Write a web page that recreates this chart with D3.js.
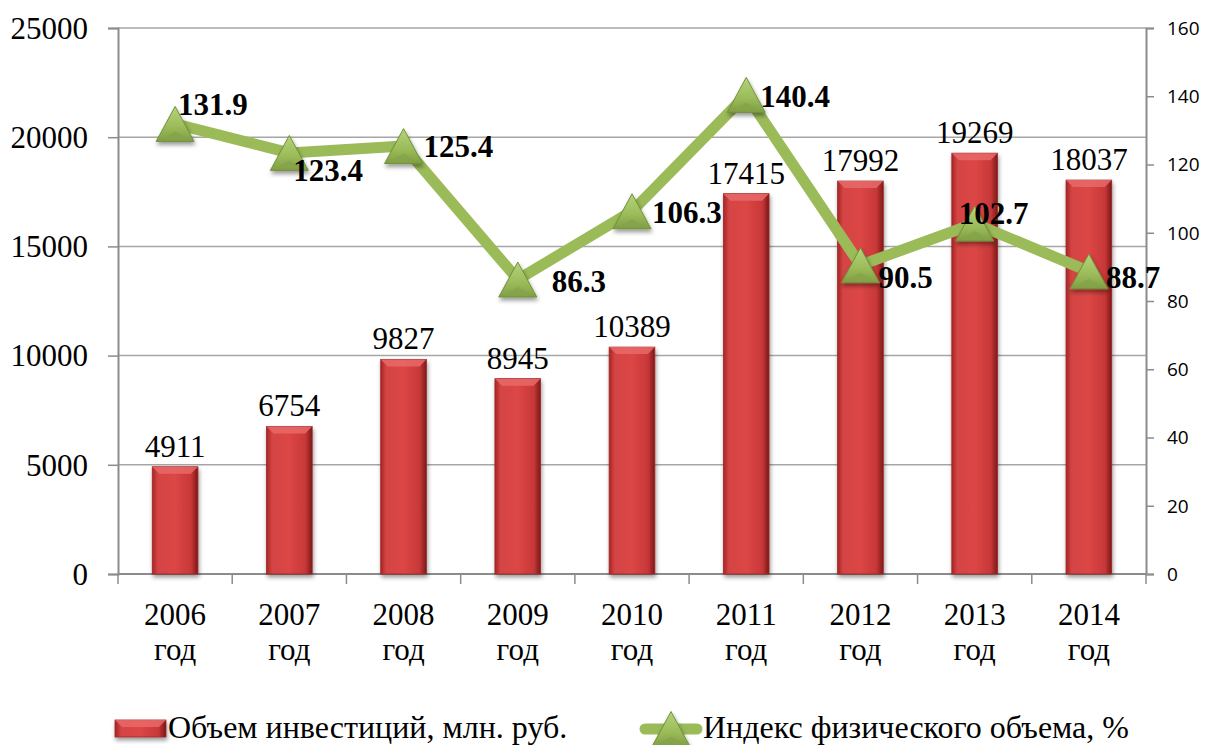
<!DOCTYPE html>
<html>
<head>
<meta charset="utf-8">
<script src="https://cdn.jsdelivr.net/npm/d3@7"></script>
<style>
  body { margin: 0; background: #fff; }
  svg { display: block; }
</style>
</head>
<body>
<div id="chart"></div>
<script>
var years = ["2006", "2007", "2008", "2009", "2010", "2011", "2012", "2013", "2014"];
var investments = [4911, 6754, 9827, 8945, 10389, 17415, 17992, 19269, 18037];
var volumeIndex = [131.9, 123.4, 125.4, 86.3, 106.3, 140.4, 90.5, 102.7, 88.7];
var leftTicks = [0, 5000, 10000, 15000, 20000, 25000];
var rightTicks = [0, 20, 40, 60, 80, 100, 120, 140, 160];
var barName = "Объем инвестиций, млн. руб.";
var lineName = "Индекс физического объема, %";

// manual nudges of the index labels (dx from point, dy of text centre from point)
var labelOffsets = [[3, -20], [4, 17], [20, 0], [34, 2], [20, 1], [14, 1], [18, 12], [-16, -10], [17, 6]];

(function (selector) {
    var W = 1214, H = 745;
    var serif = "'Liberation Serif', 'Times New Roman', serif";
    var svg = d3.select(selector).append("svg")
        .attr("width", W)
        .attr("height", H);

    var margin = { top: 28, right: 68, bottom: 171, left: 118 },
        width = W - margin.left - margin.right,
        height = H - margin.top - margin.bottom;

    var defs = svg.append("defs");

    var barGrad = defs.append("linearGradient").attr("id", "barGrad")
        .attr("x1", "0").attr("x2", "1").attr("y1", "0").attr("y2", "0");
    [[0, "#a82424"], [0.12, "#d44444"], [0.5, "#dc4645"], [0.85, "#c83838"], [1, "#7d1818"]]
        .forEach(function (s) { barGrad.append("stop").attr("offset", s[0]).attr("stop-color", s[1]); });

    var triGrad = defs.append("linearGradient").attr("id", "triGrad")
        .attr("x1", "0").attr("x2", "0").attr("y1", "0").attr("y2", "1");
    [[0, "#b5d37a"], [0.6, "#9bbb59"], [1, "#7f9e44"]]
        .forEach(function (s) { triGrad.append("stop").attr("offset", s[0]).attr("stop-color", s[1]); });

    var shadow = defs.append("filter").attr("id", "shadow")
        .attr("x", "-30%").attr("y", "-30%").attr("width", "160%").attr("height", "170%");
    shadow.append("feDropShadow").attr("dx", 1).attr("dy", 3).attr("stdDeviation", 2)
        .attr("flood-color", "#000").attr("flood-opacity", 0.4);

    var g = svg.append("g").attr("transform", "translate(" + margin.left + "," + margin.top + ")");

    var x = d3.scaleBand().domain(years).range([0, width]).paddingInner(0.6).paddingOuter(0.3);
    var xc = d3.scaleBand().domain(years).range([0, width]);
    var y = d3.scaleLinear().domain([0, 25000]).range([height, 0]);
    var y2 = d3.scaleLinear().domain([0, 160]).range([height, 0]);

    // gridlines
    g.append("g").selectAll("line")
        .data(leftTicks.slice(1))
        .enter().append("line")
        .attr("x1", 0).attr("x2", width)
        .attr("y1", function (d) { return y(d); })
        .attr("y2", function (d) { return y(d); })
        .attr("stroke", "#a6a6a6").attr("stroke-width", 1.5);

    // left axis
    var yAxis = g.append("g")
        .call(d3.axisLeft(y).tickValues(leftTicks).tickFormat(d3.format("d")).tickSize(10).tickPadding(20));
    yAxis.select(".domain").attr("stroke", "#8c8c8c").attr("stroke-width", 2);
    yAxis.selectAll(".tick line").attr("stroke", "#8c8c8c").attr("stroke-width", 1.5);
    yAxis.selectAll("text").attr("font-family", serif)
        .attr("font-size", 31).attr("fill", "#000").attr("dy", "0.33em");

    // right axis
    var yAxis2 = g.append("g").attr("transform", "translate(" + width + ",0)")
        .call(d3.axisRight(y2).tickValues(rightTicks).tickSize(8).tickPadding(13));
    yAxis2.select(".domain").attr("stroke", "#8c8c8c").attr("stroke-width", 2);
    yAxis2.selectAll(".tick line").attr("stroke", "#8c8c8c").attr("stroke-width", 1.5);
    yAxis2.selectAll("text").attr("font-family", "'Open Sans', 'Liberation Sans', sans-serif")
        .attr("font-size", 19).attr("fill", "#000").attr("dy", "0.34em");

    // category axis
    var xAxis = g.append("g").attr("transform", "translate(0," + height + ")");
    xAxis.append("line").attr("x1", 0).attr("x2", width)
        .attr("stroke", "#8c8c8c").attr("stroke-width", 2);
    xAxis.selectAll("line.tk")
        .data(years.concat(["end"]))
        .enter().append("line").attr("class", "tk")
        .attr("x1", function (d, i) { return i * xc.step(); })
        .attr("x2", function (d, i) { return i * xc.step(); })
        .attr("y1", 0).attr("y2", 10)
        .attr("stroke", "#8c8c8c").attr("stroke-width", 1.5);
    var cat = xAxis.selectAll("text")
        .data(years)
        .enter().append("text")
        .attr("text-anchor", "middle")
        .attr("font-family", serif)
        .attr("font-size", 31)
        .attr("fill", "#000");
    cat.append("tspan")
        .attr("x", function (d) { return xc(d) + xc.bandwidth() / 2; })
        .attr("y", 51)
        .text(function (d) { return d; });
    cat.append("tspan")
        .attr("x", function (d) { return xc(d) + xc.bandwidth() / 2; })
        .attr("y", 86)
        .text("год");

    // bars
    function drawBar(sel, bx, by, bw, bh) {
        var bev = Math.min(7, bh / 2);
        sel.append("rect")
            .attr("x", bx).attr("y", by).attr("width", bw).attr("height", bh)
            .attr("fill", "url(#barGrad)")
            .attr("stroke", "#9a2a2a").attr("stroke-width", 0.8)
            .attr("filter", "url(#shadow)");
        sel.append("path")
            .attr("d", "M" + bx + "," + by + "L" + (bx + bw) + "," + by +
                "L" + (bx + bw - bev) + "," + (by + bev) + "L" + (bx + bev) + "," + (by + bev) + "Z")
            .attr("fill", "#e86a68").attr("opacity", 0.85);
    }

    var bars = g.append("g");
    investments.forEach(function (v, i) {
        drawBar(bars, x(years[i]), y(v), x.bandwidth(), height - y(v));
    });

    g.append("g").selectAll("text")
        .data(investments)
        .enter().append("text")
        .attr("x", function (d, i) { return x(years[i]) + x.bandwidth() / 2; })
        .attr("y", function (d) { return y(d) - 10; })
        .attr("text-anchor", "middle")
        .attr("font-family", serif)
        .attr("font-size", 31)
        .attr("fill", "#000")
        .text(function (d) { return d; });

    // index line
    var cx = function (i) { return xc(years[i]) + xc.bandwidth() / 2; };
    var line = d3.line()
        .x(function (d, i) { return cx(i); })
        .y(function (d) { return y2(d); });

    g.append("path")
        .datum(volumeIndex)
        .attr("d", line)
        .attr("fill", "none")
        .attr("stroke", "#9bbb59")
        .attr("stroke-width", 11)
        .attr("stroke-linejoin", "round");

    function drawTri(sel, tx, ty) {
        var w = 38, h = 35;
        var tri = sel.append("g").attr("transform", "translate(" + tx + "," + ty + ")");
        tri.append("path")
            .attr("d", "M0," + (-h / 2) + "L" + (w / 2) + "," + (h / 2) + "L" + (-w / 2) + "," + (h / 2) + "Z")
            .attr("fill", "url(#triGrad)")
            .attr("stroke", "#71913a").attr("stroke-width", 1)
            .attr("filter", "url(#shadow)");
        tri.append("path")
            .attr("d", "M" + (-w / 2 + 5) + "," + (h / 2 - 2) + "L0," + (h / 2 - 10) + "L" + (w / 2 - 5) + "," + (h / 2 - 2) + "Z")
            .attr("fill", "#84a44a").attr("opacity", 0.8);
    }

    var markers = g.append("g");
    volumeIndex.forEach(function (v, i) { drawTri(markers, cx(i), y2(v)); });

    g.append("g").selectAll("text")
        .data(volumeIndex)
        .enter().append("text")
        .attr("x", function (d, i) { return cx(i) + labelOffsets[i][0]; })
        .attr("y", function (d, i) { return y2(d) + labelOffsets[i][1]; })
        .attr("dy", "0.35em")
        .attr("font-family", serif)
        .attr("font-size", 31)
        .attr("font-weight", "bold")
        .attr("fill", "#000")
        .text(function (d) { return d.toFixed(1); });

    // legend
    var legend = svg.append("g").attr("transform", "translate(0,729)");
    drawBar(legend, 115, -9, 51, 17);
    legend.append("text")
        .attr("x", 168).attr("y", 9)
        .attr("font-family", serif)
        .attr("font-size", 32).attr("fill", "#000")
        .text(barName);
    legend.append("line")
        .attr("x1", 645).attr("x2", 697).attr("y1", 0).attr("y2", 0)
        .attr("stroke", "#9bbb59").attr("stroke-width", 11).attr("stroke-linecap", "round");
    drawTri(legend, 671, 0);
    legend.append("text")
        .attr("x", 703).attr("y", 9)
        .attr("font-family", serif)
        .attr("font-size", 32).attr("fill", "#000")
        .text(lineName);
})("#chart");
</script>
</body>
</html>
